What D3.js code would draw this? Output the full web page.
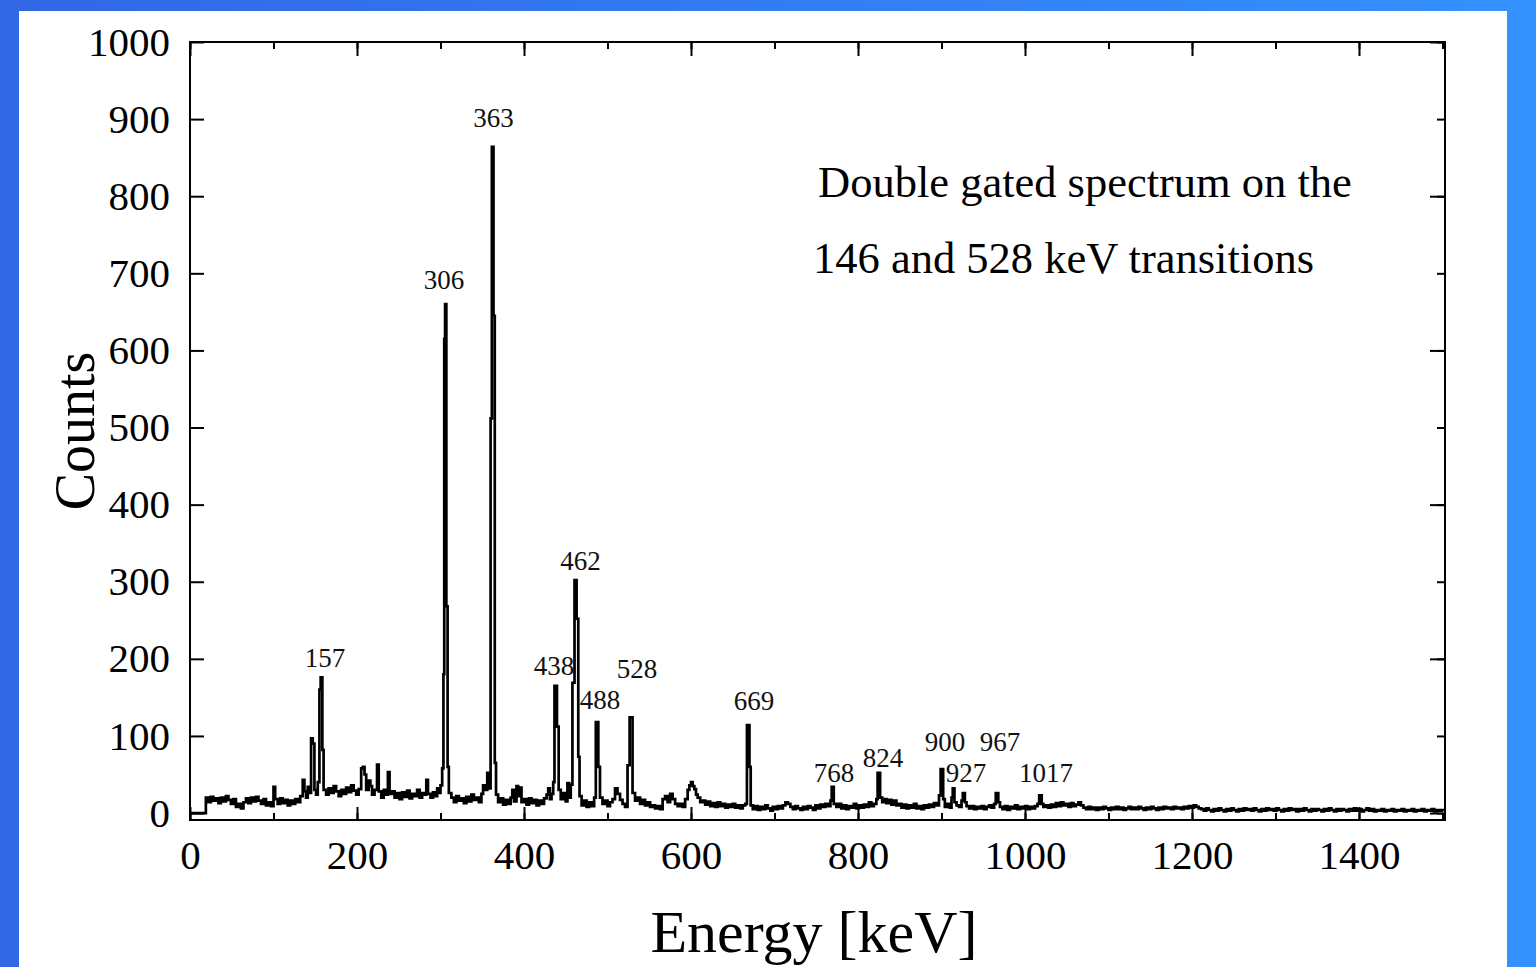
<!DOCTYPE html>
<html>
<head>
<meta charset="utf-8">
<script src="https://cdn.jsdelivr.net/npm/d3@7"></script>
<style>
    body { margin: 0; overflow: hidden; }
</style>
</head>
<body>
<div id="chart"></div>
<script>
// gamma spectrum, [energy keV, counts] (step curve)
const spectrum = [
    [0,0],[19,0],[19,20],[22,14],[25,21],[28,16],[31,19],[34,13],[37,20],[40,15],[43,22],[46,17],[49,12],[52,18],[55,8],[58,12],[61,6],[64,14],[67,19],[70,13],[73,20],[76,15],[79,21],[82,16],[85,12],[88,18],[91,10],[94,14],[97,9],[100,34],[102,18],
    [105,12],[108,19],[111,13],[114,17],[117,10],[120,16],[123,12],[126,18],[129,14],[132,22],[135,43],[137,28],[139,20],[141,34],[143,26],[145,97],[147,90],[149,30],[151,24],[153,40],[155,160],[156.5,176],[158.5,82],[160,30],
    [163,24],[166,32],[169,26],[172,35],[175,28],[178,22],[181,30],[184,25],[187,33],[190,27],[193,36],[196,29],[199,24],[202,31],[205,58],[207,60],[209,50],[211,30],[214,42],[216,35],[218,24],[221,30],[224,63],[226,28],[229,20],[232,30],[235,24],[237,53],[239,25],
    [242,28],[245,20],[248,26],[251,18],[254,27],[257,21],[260,29],[263,19],[266,25],[269,22],[272,30],[275,20],[278,26],[281,24],[283,43],[285,25],[288,20],[291,27],[294,22],[296,32],[298,26],[300,36],[302,58],[303.5,180],[304.5,615],[305.5,660],[307,268],[308.5,60],[310,26],
    [313,20],[316,14],[319,22],[322,16],[325,19],[328,13],[331,21],[334,15],[337,24],[340,17],[343,20],[346,14],[349,25],[351,36],[354,30],[356,52],[358,32],[360,512],[361.5,864],[363.5,645],[365,65],[366.5,24],
    [369,14],[372,19],[375,11],[378,17],[381,12],[384,20],[386,30],[388,15],[391,35],[393,22],[395,33],[397,14],[400,18],[403,11],[406,19],[409,13],[412,17],[415,10],[418,16],[421,12],[424,19],[427,24],[429,32],[431,18],[433,25],[435,40],[436.5,165],[439.5,112],[441.5,30],
    [444,18],[447,26],[450,15],[452,39],[454,20],[456,37],[458,169],[460.5,302],[463,252],[465,73],[466.5,22],
    [469,10],[472,16],[475,8],[478,14],[481,9],[484,20],[486,118],[489,60],[491,20],
    [494,12],[497,16],[500,9],[503,14],[506,18],[509,32],[512,25],[515,17],[518,12],[521,8],[524,62],[526.5,124],[530,26],
    [533,16],[536,20],[539,12],[542,17],[545,10],[548,14],[551,8],[554,10],[557,6],[560,9],[563,5],[566,18],[569,22],[572,14],[575,25],[578,18],[581,12],[584,9],[587,12],[590,8],
    [593,18],[596,30],[598,36],[600,40],[602,35],[604,31],[606,24],[608,20],[611,14],
    [614,16],[617,11],[620,15],[623,9],[626,13],[629,8],[632,14],[635,9],[638,12],[641,7],[644,11],[647,8],[650,12],[653,7],[656,10],[659,6],[662,10],[665,12],[667,114],[670,60],[671.5,10],
    [674,5],[677,9],[680,4],[683,8],[686,5],[689,10],[692,6],[695,3],[698,8],[701,5],[704,9],[707,6],[710,10],[713,14],[716,12],[719,8],[722,5],[725,9],[728,6],[731,4],[734,8],[737,5],[740,9],[743,7],[746,4],[749,10],[752,6],[755,11],[758,8],[761,12],[764,9],[767,16],[768.5,34],[771,12],
    [774,8],[777,12],[780,6],[783,10],[786,5],[789,9],[792,7],[795,12],[798,6],[801,10],[804,7],[807,11],[810,8],[813,14],[816,9],[819,12],[822,18],[823.5,52],[826.5,20],[829,14],
    [831,18],[834,13],[837,17],[840,11],[843,16],[846,10],[849,12],[852,7],[855,11],[858,6],[861,10],[864,7],[867,12],[870,6],[873,9],[876,5],[879,10],[882,7],[885,11],[888,8],[891,13],[894,10],[897,23],[899,57],[902,18],[904,8],[907,12],[910,7],[912,20],[913.5,32],[915.5,14],[918,10],[921,8],[924,16],[925.5,26],[928,14],[930,9],
    [933,6],[936,9],[939,5],[942,8],[945,6],[948,9],[951,5],[954,8],[957,10],[960,7],[963,12],[965,26],[968,14],[970,8],
    [973,5],[976,9],[979,4],[982,8],[985,6],[988,10],[991,5],[994,8],[997,6],[1000,9],[1003,5],[1006,8],[1009,6],[1012,9],[1015,12],[1017,23],[1020,12],[1022,8],
    [1025,10],[1028,7],[1031,11],[1034,8],[1037,13],[1040,9],[1043,14],[1046,10],[1049,12],[1052,8],[1055,13],[1058,9],[1061,11],[1064,14],[1067,10],[1070,7],
    [1073,5],[1076,8],[1079,5],[1082,7],[1085,4],[1088,7],[1091,5],[1094,8],[1097,6],[1100,4],[1103,7],[1106,5],[1109,8],[1112,5],[1115,7],[1118,4],[1121,6],[1124,8],[1127,5],[1130,7],[1133,5],[1136,8],[1139,6],[1142,4],[1145,7],[1148,5],[1151,8],[1154,6],[1157,4],[1160,7],[1163,5],[1166,8],[1169,6],[1172,7],[1175,5],[1178,8],[1181,6],[1184,7],[1187,5],[1190,8],[1193,6],[1196,9],[1199,7],[1202,10],[1205,8],[1208,6],
    [1211,5],[1214,3],[1217,6],[1220,4],[1223,2],[1226,5],[1229,3],[1232,6],[1235,4],[1238,2],[1241,5],[1244,3],[1247,6],[1250,4],[1253,2],[1256,5],[1259,3],[1262,6],[1265,4],[1268,5],[1271,3],[1274,6],[1277,4],[1280,2],[1283,5],[1286,3],[1289,6],[1292,4],[1295,5],[1298,3],[1301,6],[1304,4],[1307,2],[1310,5],[1313,3],[1316,6],[1319,4],[1322,5],[1325,2],[1328,5],[1331,3],[1334,6],[1337,4],[1340,2],[1343,5],[1346,3],[1349,5],[1352,4],[1355,2],[1358,5],[1361,3],[1364,6],[1367,4],[1370,2],[1373,5],[1376,3],[1379,5],[1382,4],[1385,2],[1388,5],[1391,3],[1394,6],[1397,3],[1400,5],
    [1403,2],[1406,4],[1409,6],[1412,3],[1415,5],[1418,2],[1421,4],[1424,3],[1427,5],[1430,2],[1433,4],[1436,3],[1439,5],[1442,2],[1445,4],[1448,3],[1451,5],[1454,2],[1457,4],[1460,3],[1463,5],[1466,2],[1469,4],[1472,3],[1475,5],[1478,2],[1481,4],[1484,3],[1487,5],[1490,2],[1493,4],[1496,3],[1499,4],[1502,3]
];

// peak labels and where they sit (energy, counts)
const peakLabels  = ['157', '306', '363', '462', '438', '488', '528', '669', '768', '824', '900', '927', '967', '1017'];
const labelEnergy = [161.7, 304.2, 363.5, 467.7, 435.9, 491, 535.3, 675.4, 771.3, 829.9, 904.2, 929.3, 970, 1025.1];
const labelCounts = [189, 680, 890, 315, 179, 135, 175, 134, 40, 60, 80, 40, 80, 40];

const xTicks = [0, 200, 400, 600, 800, 1000, 1200, 1400];
const yTicks = [0, 100, 200, 300, 400, 500, 600, 700, 800, 900, 1000];
const xMinor = d3.range(0, 1501, 100);

const noteLines = ['Double gated spectrum on the', '146 and 528 keV transitions'];

////////////////////////////////////////////////////////
////////////////////////////////////////////////////////
const W = 1536, H = 967;
const serif = '"Liberation Serif", "DejaVu Serif", serif';

var svg = d3.select('#chart')
    .append('svg')
        .attr('width', W)
        .attr('height', H);

// blue backdrop + white sheet
const grad = svg.append('defs').append('linearGradient')
    .attr('id', 'bg')
    .attr('x1', '0%').attr('x2', '100%');
grad.append('stop').attr('offset', '0%').attr('stop-color', '#3167e4');
grad.append('stop').attr('offset', '100%').attr('stop-color', '#3492ff');

svg.append('rect').attr('width', W).attr('height', H).attr('fill', 'url(#bg)');
svg.append('rect')
    .attr('x', 19).attr('y', 11)
    .attr('width', 1488).attr('height', H)
    .attr('fill', '#ffffff');

// scales
const x = d3.scaleLinear().domain([0, 1503]).range([190, 1445]);
const y = d3.scaleLinear().domain([-9, 1000]).range([820, 42]);

// spectrum trace
const line = d3.line()
    .x(d => x(d[0]))
    .y(d => y(d[1]))
    .curve(d3.curveStepAfter);

svg.append('path')
    .datum(spectrum)
    .attr('d', line)
    .attr('fill', 'none')
    .attr('stroke', '#000')
    .attr('stroke-width', 2.7)
    .attr('stroke-linejoin', 'miter');

// axes: inward ticks, short ones every 100, long every 200
function styleAxis(g) {
    g.select('.domain').remove();
    g.selectAll('line').attr('stroke', '#000').attr('stroke-width', 2);
    g.selectAll('text')
        .attr('fill', '#000')
        .attr('font-family', serif)
        .attr('font-size', 41);
}

svg.append('g')
    .attr('transform', 'translate(0,820)')
    .call(d3.axisBottom(x).tickValues(xMinor).tickSize(-7).tickFormat(''))
    .call(styleAxis);
svg.append('g')
    .attr('transform', 'translate(0,820)')
    .call(d3.axisBottom(x).tickValues(xTicks).tickSize(-13).tickPadding(20).tickFormat(d3.format('d')))
    .call(styleAxis);

svg.append('g')
    .attr('transform', 'translate(0,42)')
    .call(d3.axisTop(x).tickValues(xMinor).tickSize(-7).tickFormat(''))
    .call(styleAxis);
svg.append('g')
    .attr('transform', 'translate(0,42)')
    .call(d3.axisTop(x).tickValues(xTicks).tickSize(-14).tickFormat(''))
    .call(styleAxis);

svg.append('g')
    .attr('transform', 'translate(190,0)')
    .call(d3.axisLeft(y).tickValues(yTicks).tickSize(-14).tickPadding(20).tickFormat(d3.format('d')))
    .call(styleAxis);

svg.append('g')
    .attr('transform', 'translate(1445,0)')
    .call(d3.axisRight(y).tickValues(yTicks).tickSize(-8).tickFormat(''))
    .call(styleAxis);
svg.append('g')
    .attr('transform', 'translate(1445,0)')
    .call(d3.axisRight(y).tickValues(yTicks.filter(v => v % 200 === 0)).tickSize(-15).tickFormat(''))
    .call(styleAxis);

// frame
svg.append('rect')
    .attr('x', x(0)).attr('y', y(1000))
    .attr('width', x(1503) - x(0))
    .attr('height', y(-9) - y(1000))
    .attr('fill', 'none')
    .attr('stroke', '#000')
    .attr('stroke-width', 2);

// peak labels
svg.selectAll('.peak')
    .data(peakLabels)
    .enter().append('text')
    .attr('class', 'peak')
    .attr('x', (d, i) => x(labelEnergy[i]))
    .attr('y', (d, i) => y(labelCounts[i]))
    .attr('text-anchor', 'middle')
    .attr('font-family', serif)
    .attr('font-size', 27)
    .attr('fill', '#111')
    .text(d => d);

// note in the upper right
svg.selectAll('.note')
    .data(noteLines)
    .enter().append('text')
    .attr('class', 'note')
    .attr('x', (d, i) => i === 0 ? 818 : 813)
    .attr('y', (d, i) => 197 + i * 76)
    .attr('font-family', serif)
    .attr('font-size', 44.5)
    .attr('fill', '#000')
    .text(d => d);

// axis titles
svg.append('text')
    .attr('transform', 'translate(94,431) rotate(-90)')
    .attr('text-anchor', 'middle')
    .attr('font-family', serif)
    .attr('font-size', 56)
    .attr('fill', '#000')
    .text('Counts');

svg.append('text')
    .attr('x', 814)
    .attr('y', 952)
    .attr('text-anchor', 'middle')
    .attr('font-family', serif)
    .attr('font-size', 60)
    .attr('fill', '#000')
    .text('Energy [keV]');
</script>
</body>
</html>
